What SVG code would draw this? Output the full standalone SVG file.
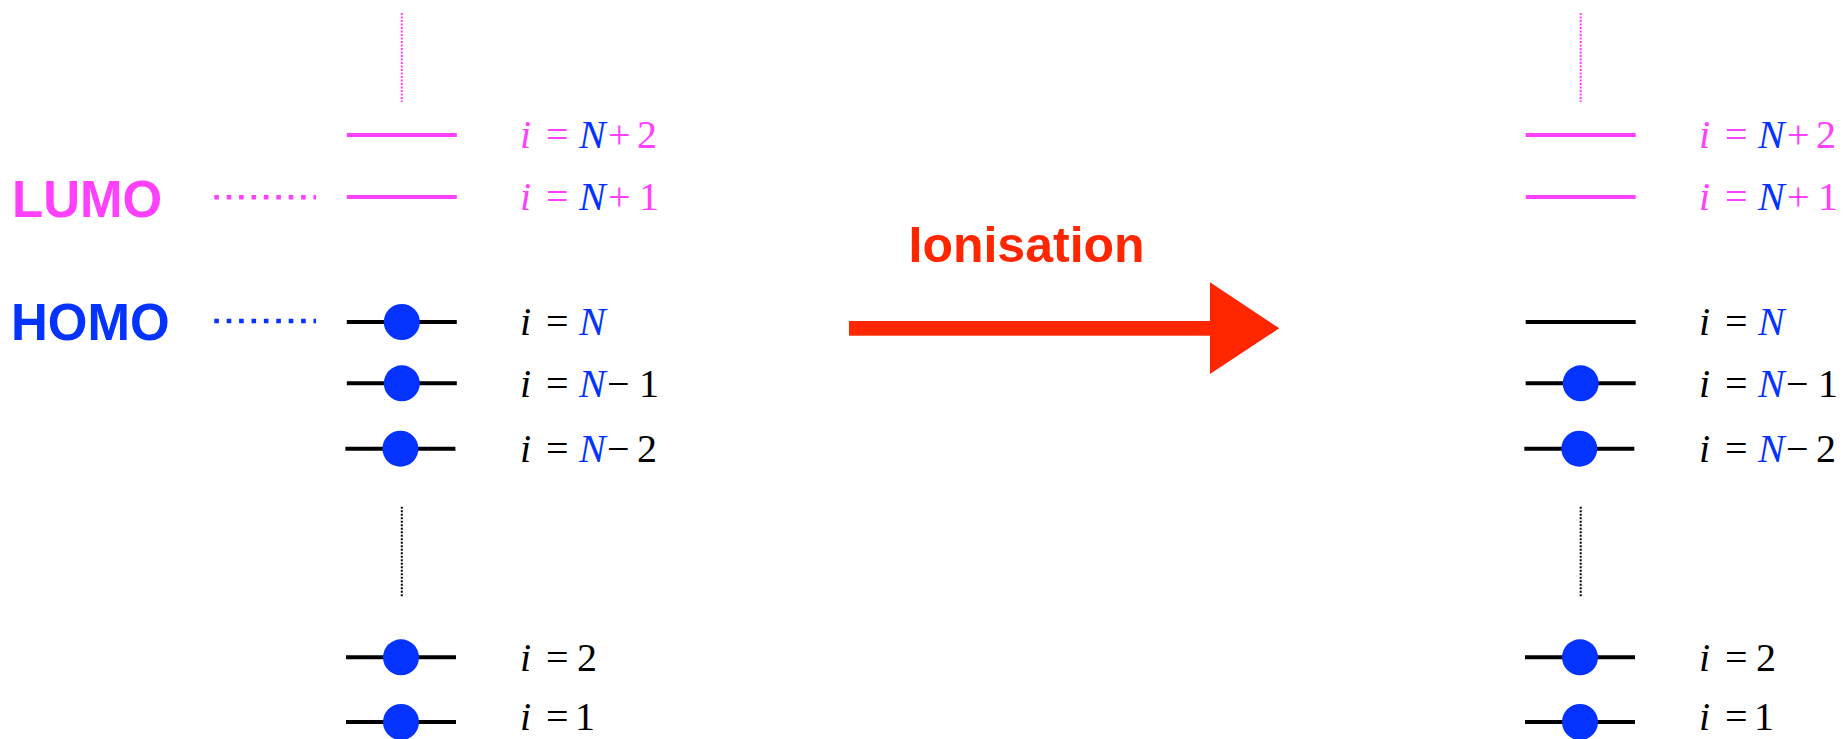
<svg xmlns="http://www.w3.org/2000/svg" width="1845" height="739" viewBox="0 0 1845 739">
<style>
  .lvl{stroke-width:4;fill:none}
  .occ{stroke:#000}
  .emp{stroke:#FF40FF}
  .el{fill:#0433FF}
  .lab{font-family:"Liberation Serif","Times New Roman",serif;font-size:40px}
  .it{font-style:italic}
  .pk{fill:#FF40FF}
  .bk{fill:#000}
  .bl{fill:#0433FF}
  .big{font-family:"Liberation Sans",Arial,Helvetica,sans-serif;font-weight:bold;font-size:51px}
  .vdot{stroke-width:2;stroke-dasharray:2 1.5;fill:none}
  .hdot{stroke-width:4.6;stroke-dasharray:4.6 7.8;fill:none}
</style>
<rect width="1845" height="739" fill="#fff"/>

<!-- Left column (neutral) -->
<g id="left-column">
  <line class="vdot" x1="401.8" y1="13" x2="401.8" y2="102" stroke="#FF40FF"/>
  <g id="L-Np2">
    <line class="lvl emp" x1="346.8" y1="135" x2="456.8" y2="135"/>
    <text class="lab" y="148"><tspan class="it pk" x="520">i</tspan><tspan class="pk" x="546">=</tspan><tspan class="it bl" x="579">N</tspan><tspan class="pk" x="608">+</tspan><tspan class="pk" x="637">2</tspan></text>
  </g>
  <g id="L-Np1">
    <line class="lvl emp" x1="346.8" y1="197" x2="456.8" y2="197"/>
    <text class="lab" y="210"><tspan class="it pk" x="520">i</tspan><tspan class="pk" x="546">=</tspan><tspan class="it bl" x="579">N</tspan><tspan class="pk" x="608">+</tspan><tspan class="pk" x="639">1</tspan></text>
  </g>
  <g id="L-N">
    <line class="lvl occ" x1="346.8" y1="322" x2="456.8" y2="322"/>
    <circle class="el" cx="401.8" cy="322" r="18"/>
    <text class="lab" y="335"><tspan class="it bk" x="520">i</tspan><tspan class="bk" x="546">=</tspan><tspan class="it bl" x="579">N</tspan></text>
  </g>
  <g id="L-Nm1">
    <line class="lvl occ" x1="346.8" y1="383.3" x2="456.8" y2="383.3"/>
    <circle class="el" cx="401.8" cy="383.3" r="18"/>
    <text class="lab" y="396.5"><tspan class="it bk" x="520">i</tspan><tspan class="bk" x="546">=</tspan><tspan class="it bl" x="579">N</tspan><tspan class="bk" x="607">−</tspan><tspan class="bk" x="639">1</tspan></text>
  </g>
  <g id="L-Nm2">
    <line class="lvl occ" x1="345.4" y1="448.7" x2="455.4" y2="448.7"/>
    <circle class="el" cx="400.4" cy="448.7" r="18"/>
    <text class="lab" y="462"><tspan class="it bk" x="520">i</tspan><tspan class="bk" x="546">=</tspan><tspan class="it bl" x="579">N</tspan><tspan class="bk" x="607">−</tspan><tspan class="bk" x="637">2</tspan></text>
  </g>
  <line class="vdot" x1="401.8" y1="506.7" x2="401.8" y2="596.7" stroke="#000"/>
  <g id="L-2">
    <line class="lvl occ" x1="346" y1="657.3" x2="456" y2="657.3"/>
    <circle class="el" cx="401" cy="657.3" r="18"/>
    <text class="lab" y="670.5"><tspan class="it bk" x="520">i</tspan><tspan class="bk" x="546">=</tspan><tspan class="bk" x="577">2</tspan></text>
  </g>
  <g id="L-1">
    <line class="lvl occ" x1="346" y1="722" x2="456" y2="722"/>
    <circle class="el" cx="401" cy="722" r="18"/>
    <text class="lab" y="730"><tspan class="it bk" x="520">i</tspan><tspan class="bk" x="546">=</tspan><tspan class="bk" x="575">1</tspan></text>
  </g>
</g>

<g id="LUMO-label"><text class="big pk" x="12" y="217">LUMO</text></g>
<g id="HOMO-label"><text class="big bl" x="11" y="340">HOMO</text></g>

<!-- Right column (ionised) -->
<g id="right-column">
  <line class="vdot" x1="1580.7" y1="13" x2="1580.7" y2="102" stroke="#FF40FF"/>
  <g id="R-Np2">
    <line class="lvl emp" x1="1525.7" y1="135" x2="1635.7" y2="135"/>
    <text class="lab" y="148"><tspan class="it pk" x="1699">i</tspan><tspan class="pk" x="1725">=</tspan><tspan class="it bl" x="1758">N</tspan><tspan class="pk" x="1787">+</tspan><tspan class="pk" x="1816">2</tspan></text>
  </g>
  <g id="R-Np1">
    <line class="lvl emp" x1="1525.7" y1="197" x2="1635.7" y2="197"/>
    <text class="lab" y="210"><tspan class="it pk" x="1699">i</tspan><tspan class="pk" x="1725">=</tspan><tspan class="it bl" x="1758">N</tspan><tspan class="pk" x="1787">+</tspan><tspan class="pk" x="1818">1</tspan></text>
  </g>
  <g id="R-N">
    <line class="lvl occ" x1="1525.7" y1="322" x2="1635.7" y2="322"/>
    <text class="lab" y="335"><tspan class="it bk" x="1699">i</tspan><tspan class="bk" x="1725">=</tspan><tspan class="it bl" x="1758">N</tspan></text>
  </g>
  <g id="R-Nm1">
    <line class="lvl occ" x1="1525.7" y1="383.3" x2="1635.7" y2="383.3"/>
    <circle class="el" cx="1580.7" cy="383.3" r="18"/>
    <text class="lab" y="396.5"><tspan class="it bk" x="1699">i</tspan><tspan class="bk" x="1725">=</tspan><tspan class="it bl" x="1758">N</tspan><tspan class="bk" x="1786">−</tspan><tspan class="bk" x="1818">1</tspan></text>
  </g>
  <g id="R-Nm2">
    <line class="lvl occ" x1="1524.3" y1="448.7" x2="1634.3" y2="448.7"/>
    <circle class="el" cx="1579.3" cy="448.7" r="18"/>
    <text class="lab" y="462"><tspan class="it bk" x="1699">i</tspan><tspan class="bk" x="1725">=</tspan><tspan class="it bl" x="1758">N</tspan><tspan class="bk" x="1786">−</tspan><tspan class="bk" x="1816">2</tspan></text>
  </g>
  <line class="vdot" x1="1580.7" y1="506.7" x2="1580.7" y2="596.7" stroke="#000"/>
  <g id="R-2">
    <line class="lvl occ" x1="1525" y1="657.3" x2="1635" y2="657.3"/>
    <circle class="el" cx="1580" cy="657.3" r="18"/>
    <text class="lab" y="670.5"><tspan class="it bk" x="1699">i</tspan><tspan class="bk" x="1725">=</tspan><tspan class="bk" x="1756">2</tspan></text>
  </g>
  <g id="R-1">
    <line class="lvl occ" x1="1525" y1="722" x2="1635" y2="722"/>
    <circle class="el" cx="1580" cy="722" r="18"/>
    <text class="lab" y="730"><tspan class="it bk" x="1699">i</tspan><tspan class="bk" x="1725">=</tspan><tspan class="bk" x="1754">1</tspan></text>
  </g>
</g>

<g id="Ionisation-label"><text class="big" x="908.5" y="261.7" fill="#FF2600" style="font-size:50px">Ionisation</text></g>

<!-- Connectors -->
<g id="connectors">
  <line class="hdot" x1="214.3" y1="197.3" x2="316" y2="197.3" stroke="#FF40FF"/>
  <line class="hdot" x1="214.3" y1="321" x2="316" y2="321" stroke="#0433FF"/>
  <g id="ionisation-arrow" fill="#FF2600">
    <rect x="849" y="321" width="362" height="14.7"/>
    <polygon points="1210,282.3 1279.3,328.3 1210,374"/>
  </g>
</g>
</svg>
